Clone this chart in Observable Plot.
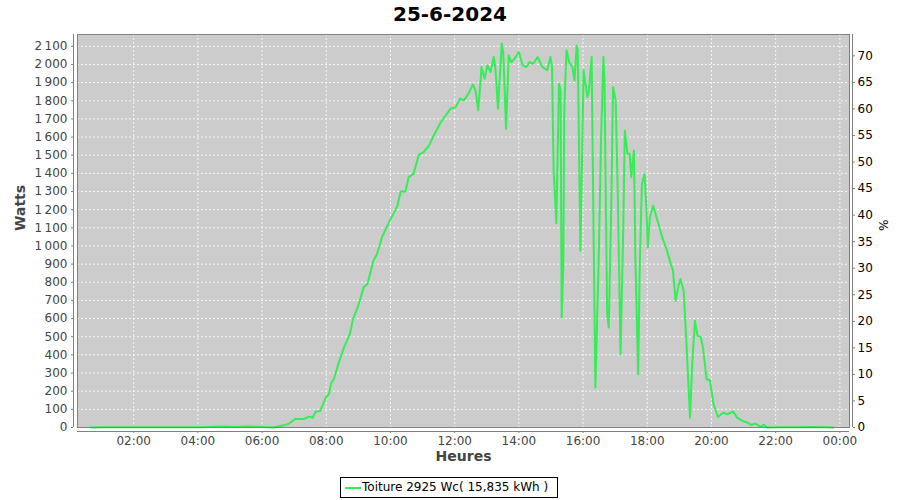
<!DOCTYPE html>
<html>
<head>
<meta charset="utf-8">
<script src="https://cdn.jsdelivr.net/npm/d3@7"></script>
<script src="https://cdn.jsdelivr.net/npm/@observablehq/plot@0.6"></script>
<style>
  html, body { margin: 0; padding: 0; background: #ffffff; }
  #wrap { position: relative; width: 900px; height: 500px; font-family: "DejaVu Sans", sans-serif; }
  #title { position: absolute; left: 0; top: 0; width: 900px; height: 28px; line-height: 28px; text-align: center; font-size: 20px; font-weight: bold; color: #000; }
  #chart { position: absolute; left: 0; top: 28px; }
  #legend { position: absolute; left: 340px; top: 477px; width: 216px; height: 19px; border: 1px solid #000; box-sizing: content-box; font-size: 12px; color: #000; }
  #legend .sw { position: absolute; left: 4px; top: 9px; width: 16px; height: 2px; background: #33ee55; }
  #legend .tx { position: absolute; left: 21px; top: 0; line-height: 19px; white-space: nowrap; }
</style>
</head>
<body>
<div id="wrap">
  <div id="title"></div>
  <div id="chart"></div>
  <div id="legend"><div class="sw"></div><div class="tx"></div></div>
</div>
<script>
const chartTitle = "25-6-2024";
const seriesName = "Toiture 2925 Wc( 15,835 kWh )";
const capacityW = 2925;

const times = [
  "00:40","01:10","01:40","02:10","02:40","03:10","03:40","04:10","04:30","04:50",
  "05:10","05:30","05:50","06:10","06:20","06:41","06:50","07:02","07:18","07:28",
  "07:35","07:40","07:49","07:59","08:05","08:09","08:14","08:23","08:33","08:44",
  "08:50","08:59","09:10","09:17","09:28","09:35","09:44","09:57","10:07","10:13",
  "10:19","10:28","10:34","10:43","10:53","11:02","11:12","11:20","11:34","11:40",
  "11:52","12:02","12:10","12:17","12:26","12:34","12:39","12:44","12:49","12:50",
  "12:56","13:01","13:07","13:13","13:16","13:21","13:28","13:31","13:36","13:41",
  "13:46","13:52","14:00","14:07","14:14","14:20","14:27","14:35","14:44","14:53",
  "14:59","15:02","15:05","15:10","15:15","15:18","15:20","15:23","15:25","15:29",
  "15:34","15:40","15:44","15:48","15:50","15:55","16:01","16:08","16:11","16:16",
  "16:18","16:23","16:29","16:34","16:38","16:40","16:45","16:48","16:53","16:56",
  "17:01","17:05","17:10","17:15","17:18","17:23","17:27","17:30","17:35","17:38",
  "17:43","17:46","17:50","17:55","17:59","18:01","18:05","18:11","18:19","18:28",
  "18:37","18:44","18:48","18:53","18:59","19:02","19:08","19:13","19:20","19:24",
  "19:29","19:34","19:40","19:44","19:51","19:57","20:04","20:12","20:22","20:29",
  "20:41","20:48","20:58","21:07","21:14","21:22","21:32","21:38","21:44","22:10",
  "22:40","23:10","23:30","23:48"
];
const watts = [
  0,2,1,2,1,2,2,1,4,6,
  3,5,4,2,0,12,21,47,47,60,
  54,87,91,165,183,242,266,354,440,514,
  597,665,772,790,919,956,1047,1130,1185,1222,
  1300,1300,1379,1397,1502,1517,1553,1603,1682,1706,
  1756,1765,1811,1802,1839,1890,1857,1747,1930,1986,
  1921,1995,1958,2041,1986,1756,2115,2059,1646,2050,
  2013,2032,2069,1995,1986,2013,2004,2041,1986,1968,
  2041,1986,1416,1125,1894,1857,606,900,1765,2078,
  2013,1986,1912,2105,2078,974,1968,1820,1857,2041,
  1489,220,900,1636,2041,1912,625,551,1268,1875,
  1802,1268,404,1084,1636,1508,1508,1379,1526,900,
  294,900,1342,1397,1158,992,1158,1222,1140,1047,
  974,900,864,698,790,818,753,477,54,349,
  588,505,499,440,266,260,128,58,82,73,
  87,54,36,27,14,21,3,14,0,2,
  1,3,1,0
];

const xTicks = [2,4,6,8,10,12,14,16,18,20,22,24];
const yTicks = [0,100,200,300,400,500,600,700,800,900,1000,1100,1200,1300,1400,1500,1600,1700,1800,1900,2000,2100];
const pctTicks = [0,5,10,15,20,25,30,35,40,45,50,55,60,65,70];
const xDomain = [0.25, 24.3];
const yDomain = [0, 2165];

const toHours = s => { const [h, m] = s.split(":").map(Number); return h + m / 60; };
const data = times.map((t, i) => ({h: toHours(t), w: watts[i]}));
const fmtX = d => String(d % 24).padStart(2, "0") + ":00";
const fmtY = d => d >= 1000 ? Math.floor(d / 1000) + "\u2009" + String(d % 1000).padStart(3, "0") : String(d);

document.getElementById("title").textContent = chartTitle;
document.querySelector("#legend .tx").textContent = seriesName;

const gridStyle = {stroke: "#ffffff", strokeOpacity: 0.85, strokeDasharray: "2,2", strokeWidth: 1};

const chart = Plot.plot({
  width: 900,
  height: 444,
  marginTop: 6,
  marginBottom: 45,
  marginLeft: 77,
  marginRight: 51,
  style: {fontFamily: "DejaVu Sans", fontSize: "12px", color: "#444444", background: "white"},
  x: {domain: xDomain, axis: null},
  y: {domain: yDomain, axis: null},
  marks: [
    Plot.frame({fill: "#cccccc"}),
    Plot.gridX(xTicks, gridStyle),
    Plot.gridY(yTicks, gridStyle),
    Plot.line(data, {x: "h", y: "w", stroke: "#33ee55", strokeWidth: 2}),
    Plot.frame({stroke: "#808080"}),
    Plot.ruleY([yDomain[0]], {dy: 4, stroke: "#808080"}),
    Plot.ruleX([xDomain[0]], {dx: -4, stroke: "#808080"}),
    Plot.ruleX([xDomain[1]], {dx: 3, stroke: "#808080"}),
    Plot.axisX(xTicks, {tickFormat: fmtX, dy: 4, tickSize: 2, tickPadding: 3, stroke: "#808080", label: null}),
    Plot.axisY(yTicks, {anchor: "left", tickFormat: fmtY, dx: -4, tickSize: 2, tickPadding: 4, stroke: "#808080", label: null}),
    Plot.axisY(pctTicks.map(p => p * capacityW / 100), {anchor: "right", tickFormat: d => String(Math.round(d * 100 / capacityW)), dx: 3, tickSize: 2, tickPadding: 3, stroke: "#808080", fill: "#000", label: null}),
    Plot.text(["Heures"], {frameAnchor: "bottom", dy: 33, fontWeight: "bold", fontSize: 14, fill: "#444"}),
    Plot.text(["Watts"], {frameAnchor: "left", dx: -57, rotate: -90, fontWeight: "bold", fontSize: 14, fill: "#444"}),
    Plot.text(["%"], {frameAnchor: "right", dx: 33, rotate: 90, fontSize: 12, fill: "#000"})
  ]
});
document.getElementById("chart").appendChild(chart);
</script>
</body>
</html>
